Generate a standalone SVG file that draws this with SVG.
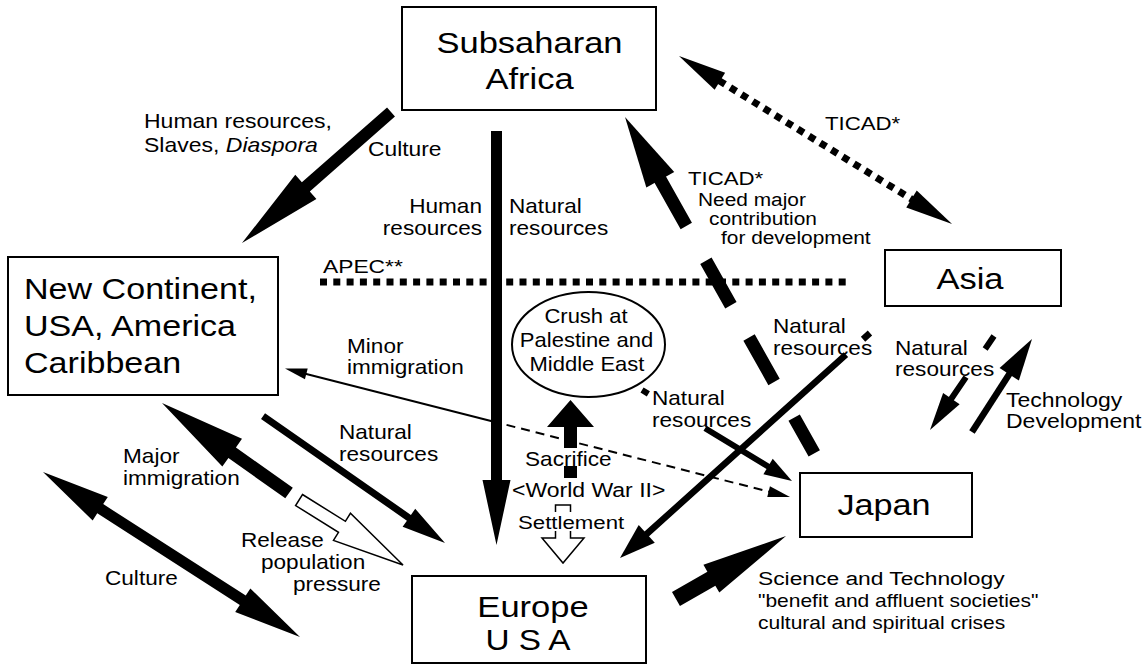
<svg xmlns="http://www.w3.org/2000/svg" width="1145" height="666" viewBox="0 0 1145 666">
<style>
 .t{font-family:"Liberation Sans",Arial,Helvetica,sans-serif;fill:#000}
 .b{font-size:29.5px}
 .m{font-size:20px}
 .s{font-size:18.5px}
 .box{fill:#fff;stroke:#000;stroke-width:2}
 .fill{fill:#000;stroke:none}
 .hollow{fill:none;stroke:#000;stroke-width:1.5;stroke-linejoin:miter}
 .hollowf{fill:#fff;stroke:#000;stroke-width:1.5;stroke-linejoin:miter}
 .ln{stroke:#000;fill:none}
</style>
<rect width="1145" height="666" fill="#fff"/>
<g id="connectors">
 <!-- Africa -> New Continent -->
 <polygon class="fill" transform="translate(242,243) rotate(138.68)" points="-198.4,-6 -85,-6 -85,-16 0,0 -85,16 -85,6 -198.4,6"/>
 <!-- Africa -> Europe -->
 <polygon class="fill" points="491,131 502,131 502,480 510.5,480 496.5,545 482.5,480 491,480"/>
 <!-- Europe -> Africa (TICAD, broken) -->
 <g transform="translate(625,117) rotate(-119.36)">
  <path class="ln" stroke-width="13" d="M-386,0 H-345 M-304,0 H-253 M-216,0 H-165 M-125,0 H-70"/>
  <polygon class="fill" points="0,0 -72,-16 -72,16"/>
 </g>
 <!-- Africa <-> Asia dotted TICAD -->
 <g transform="translate(679,56) rotate(31.61)">
  <line class="ln" x1="47" y1="0" x2="274" y2="0" stroke-width="7" stroke-dasharray="7 6.2"/>
  <polygon class="fill" points="0,0 48,-10 48,10"/>
  <polygon class="fill" points="320.6,0 273,-10 273,10"/>
 </g>
 <!-- APEC dotted line -->
 <line class="ln" x1="320" y1="282" x2="847" y2="282" stroke-width="7" stroke-dasharray="7 6.3"/>
 <!-- Minor immigration (Japan <-> New Continent) -->
 <g transform="translate(285,368.5) rotate(14.28)">
  <path class="ln" stroke-width="2" d="M20,0 H213.6"/>
  <path class="ln" stroke-width="2" stroke-dasharray="9 6" d="M213.6,0 H501"/>
  <polygon class="fill" points="0,0 22,-5.5 22,5.5"/>
  <polygon class="fill" points="521.1,0 499,-5.5 499,5.5"/>
 </g>
 <!-- Crush -> Japan natural resources -->
 <g transform="translate(792,481) rotate(31.24)">
  <path class="ln" stroke-width="6" d="M-175.4,0 H-168 M-101.7,0 H-27"/>
  <polygon class="fill" points="0,0 -28,-9 -28,9"/>
 </g>
 <!-- Asia -> Europe natural resources -->
 <g transform="translate(620,558) rotate(138.01)">
  <path class="ln" stroke-width="6.5" d="M-336.3,0 H-327 M-304,0 H-34"/>
  <polygon class="fill" points="0,0 -36,-12 -36,12"/>
 </g>
 <!-- Asia -> Japan natural resources -->
 <g transform="translate(930,430) rotate(124.25)">
  <path class="ln" stroke-width="6" d="M-113.7,0 H-98 M-64,0 H-36"/>
  <polygon class="fill" points="0,0 -38,-10 -38,10"/>
 </g>
 <!-- Japan -> Asia technology development -->
 <g transform="translate(1032,339) rotate(-57.17)">
  <path class="ln" stroke-width="6.5" d="M-110.7,0 H-40"/>
  <polygon class="fill" points="0,0 -42,-11.5 -42,11.5"/>
 </g>
 <!-- Europe -> Japan science and technology -->
 <polygon class="fill" transform="translate(786,536) rotate(-29.8)" points="-126.8,-8 -86,-8 -86,-16 0,0 -86,16 -86,8 -126.8,8"/>
 <!-- Sacrifice (Europe -> Crush) -->
 <polygon class="fill" points="570.5,400 594,427 577,427 577,448 564,448 564,427 547,427"/>
 <rect class="fill" x="564" y="466" width="13" height="12"/>
 <!-- Settlement (hollow) -->
 <path class="hollow" d="M555.5,512 V505 H570.5 V512"/>
 <path class="hollow" d="M555.5,531 V538 H542 L563,563 L584,538 H570.5 V531"/>
 <!-- Major immigration -->
 <polygon class="fill" transform="translate(162,403) rotate(-144.68)" points="-155.7,-6.5 -86,-6.5 -86,-17 0,0 -86,17 -86,6.5 -155.7,6.5"/>
 <!-- Release population pressure (hollow) -->
 <polygon class="hollowf" transform="translate(403,565) rotate(32.01)" points="-122.6,-6.5 -72,-6.5 -72,-16 0,0 -72,16 -72,6.5 -122.6,6.5"/>
 <!-- New Continent -> Europe natural resources -->
 <polygon class="fill" transform="translate(445,543) rotate(34.91)" points="-221.9,-3.5 -44,-3.5 -44,-11 0,0 -44,11 -44,3.5 -221.9,3.5"/>
 <!-- Culture double arrow -->
 <polygon class="fill" transform="translate(43,472) rotate(32.7)" points="0,0 68,-14 68,-5.5 237.4,-5.5 237.4,-14 305.4,0 237.4,14 237.4,5.5 68,5.5 68,14"/>
</g>

<g id="node-africa">
 <rect class="box" x="402" y="7" width="254" height="103"/>
 <text class="t b" text-anchor="middle" transform="translate(529.5,53) scale(1.17,1)">Subsaharan</text>
 <text class="t b" text-anchor="middle" transform="translate(529.5,89) scale(1.17,1)">Africa</text>
</g>
<g id="node-newcontinent">
 <rect class="box" x="8" y="257" width="270" height="138"/>
 <text class="t b" transform="translate(24,299) scale(1.155,1)">New Continent,</text>
 <text class="t b" transform="translate(24,336) scale(1.155,1)">USA, America</text>
 <text class="t b" transform="translate(24,373) scale(1.155,1)">Caribbean</text>
</g>
<g id="node-asia">
 <rect class="box" x="885" y="250" width="176" height="56"/>
 <text class="t b" text-anchor="middle" transform="translate(970,289) scale(1.17,1)">Asia</text>
</g>
<g id="node-japan">
 <rect class="box" x="800" y="473" width="172" height="64"/>
 <text class="t b" text-anchor="middle" transform="translate(884,515) scale(1.16,1)">Japan</text>
</g>
<g id="node-europe">
 <rect class="box" x="412" y="576" width="234" height="87"/>
 <text class="t b" text-anchor="middle" transform="translate(533,617) scale(1.17,1)">Europe</text>
 <text class="t b" text-anchor="middle" transform="translate(528,650) scale(1.13,1)">U S A</text>
</g>
<g id="node-crush">
 <ellipse cx="588.5" cy="344.5" rx="76.5" ry="52.5" fill="#fff" stroke="#000" stroke-width="2"/>
 <text class="t m" text-anchor="middle" transform="translate(586,323) scale(1.1,1)">Crush at</text>
 <text class="t m" text-anchor="middle" transform="translate(586.5,347) scale(1.1,1)">Palestine and</text>
 <text class="t m" text-anchor="middle" transform="translate(587,371) scale(1.1,1)">Middle East</text>
</g>

<g id="labels">
 <text class="t m" transform="translate(144,128) scale(1.15,1)">Human resources,</text>
 <text class="t m" transform="translate(144,152) scale(1.15,1)">Slaves, <tspan font-style="italic">Diaspora</tspan></text>
 <text class="t m" transform="translate(368,156) scale(1.14,1)">Culture</text>
 <text class="t m" text-anchor="end" transform="translate(482,213) scale(1.13,1)">Human</text>
 <text class="t m" text-anchor="end" transform="translate(482,235) scale(1.13,1)">resources</text>
 <text class="t m" transform="translate(509,213) scale(1.13,1)">Natural</text>
 <text class="t m" transform="translate(509,235) scale(1.13,1)">resources</text>
 <text class="t" font-size="19" transform="translate(323,273) scale(1.2,1)">APEC**</text>
 <text class="t" font-size="19" transform="translate(825,130) scale(1.17,1)">TICAD*</text>
 <text class="t" font-size="19" transform="translate(688,185) scale(1.17,1)">TICAD*</text>
 <text class="t" font-size="18" transform="translate(698,206) scale(1.16,1)">Need major</text>
 <text class="t" font-size="18" transform="translate(709,225) scale(1.16,1)">contribution</text>
 <text class="t" font-size="18" transform="translate(721,244) scale(1.16,1)">for development</text>
 <text class="t m" transform="translate(347,353) scale(1.13,1)">Minor</text>
 <text class="t m" transform="translate(347,374) scale(1.13,1)">immigration</text>
 <text class="t m" transform="translate(339,439) scale(1.13,1)">Natural</text>
 <text class="t m" transform="translate(339,461) scale(1.13,1)">resources</text>
 <text class="t m" transform="translate(123,463) scale(1.13,1)">Major</text>
 <text class="t m" transform="translate(123,485) scale(1.13,1)">immigration</text>
 <text class="t m" transform="translate(105,585) scale(1.13,1)">Culture</text>
 <text class="t m" transform="translate(241,547) scale(1.13,1)">Release</text>
 <text class="t m" transform="translate(261,569) scale(1.13,1)">population</text>
 <text class="t m" transform="translate(293,591) scale(1.13,1)">pressure</text>
 <text class="t m" transform="translate(525,466) scale(1.13,1)">Sacrifice</text>
 <text class="t" font-size="19.5" transform="translate(512,497) scale(1.18,1)">&lt;World War II&gt;</text>
 <text class="t" font-size="19" transform="translate(518,529) scale(1.17,1)">Settlement</text>
 <text class="t m" transform="translate(652,405) scale(1.13,1)">Natural</text>
 <text class="t m" transform="translate(652,427) scale(1.13,1)">resources</text>
 <text class="t m" transform="translate(773,333) scale(1.13,1)">Natural</text>
 <text class="t m" transform="translate(773,355) scale(1.13,1)">resources</text>
 <text class="t m" transform="translate(895,355) scale(1.13,1)">Natural</text>
 <text class="t m" transform="translate(895,376) scale(1.13,1)">resources</text>
 <text class="t m" transform="translate(1006,407) scale(1.15,1)">Technology</text>
 <text class="t m" transform="translate(1006,428) scale(1.15,1)">Development</text>
 <text class="t" font-size="19" transform="translate(758,585) scale(1.2,1)">Science and Technology</text>
 <text class="t" font-size="17.5" transform="translate(758,607) scale(1.2,1)">"benefit and affluent societies"</text>
 <text class="t" font-size="17.5" transform="translate(758,629) scale(1.2,1)">cultural and spiritual crises</text>
</g>
</svg>
